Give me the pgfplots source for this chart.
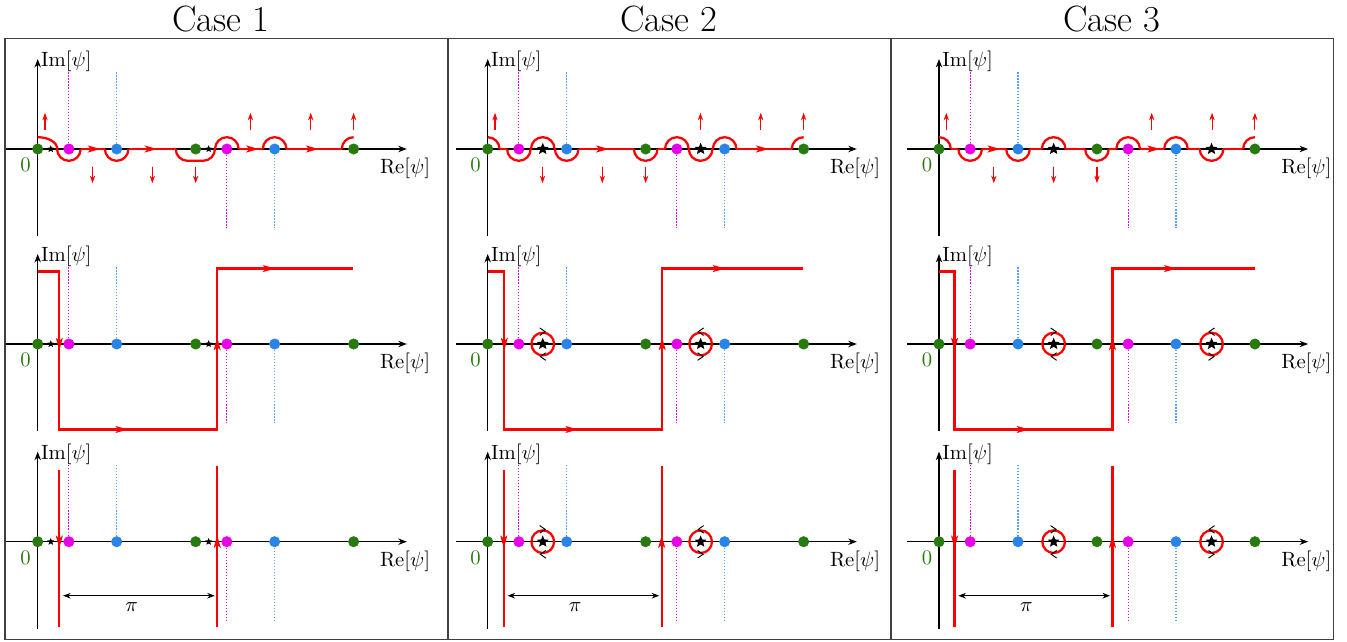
\documentclass[border=0pt]{standalone}
\usepackage{pgfplots}
\pgfplotsset{compat=1.18}
\usetikzlibrary{arrows.meta}

\definecolor{cgreen}{RGB}{40,122,14}
\definecolor{cmag}{RGB}{232,0,232}
\definecolor{cblue}{RGB}{42,132,232}
\definecolor{cdotblue}{RGB}{90,160,240}

\newlength{\rr}\setlength{\rr}{6.26pt}
\newlength{\ew}\setlength{\ew}{10.4pt}

\pgfdeclareplotmark{semiU}{\pgfpathmoveto{\pgfqpoint{-\rr}{0pt}}\pgfpatharc{180}{0}{\rr}\pgfusepathqstroke}
\pgfdeclareplotmark{semiD}{\pgfpathmoveto{\pgfqpoint{-\rr}{0pt}}\pgfpatharc{180}{360}{\rr}\pgfusepathqstroke}
\pgfdeclareplotmark{qstart}{\pgfpathmoveto{\pgfqpoint{0pt}{\rr}}\pgfpatharc{90}{0}{\rr}\pgfusepathqstroke}
\pgfdeclareplotmark{qstartE}{\pgfpathmoveto{\pgfqpoint{0pt}{\rr}}\pgfpatharc{90}{0}{\ew and \rr}\pgfusepathqstroke}
\pgfdeclareplotmark{qend}{\pgfpathmoveto{\pgfqpoint{-\rr}{0pt}}\pgfpatharc{180}{90}{\rr}\pgfusepathqstroke}
\pgfdeclareplotmark{flatD}{\pgfpathmoveto{\pgfqpoint{-\ew}{0pt}}\pgfpatharc{180}{270}{\rr}\pgfpathlineto{\pgfpoint{\ew-\rr}{-\rr}}\pgfpatharc{270}{360}{\rr}\pgfusepathqstroke}
\pgfdeclareplotmark{arr}{\pgfpathmoveto{\pgfqpoint{3.4pt}{0pt}}\pgfpathlineto{\pgfqpoint{-3.4pt}{1.9pt}}\pgfpathlineto{\pgfqpoint{-1.7pt}{0pt}}\pgfpathlineto{\pgfqpoint{-3.4pt}{-1.9pt}}\pgfpathclose\pgfusepathqfill}
\pgfdeclareplotmark{chev}{\pgfpathmoveto{\pgfqpoint{-1.6pt}{2pt}}\pgfpathlineto{\pgfqpoint{1.3pt}{0pt}}\pgfpathlineto{\pgfqpoint{-1.6pt}{-2pt}}\pgfusepathqstroke}
\pgfdeclareplotmark{fstar}{%
 \pgfpathmoveto{\pgfpointpolar{90}{\pgfplotmarksize}}%
 \pgfpathlineto{\pgfpointpolar{126}{0.45\pgfplotmarksize}}%
 \pgfpathlineto{\pgfpointpolar{162}{\pgfplotmarksize}}%
 \pgfpathlineto{\pgfpointpolar{198}{0.45\pgfplotmarksize}}%
 \pgfpathlineto{\pgfpointpolar{234}{\pgfplotmarksize}}%
 \pgfpathlineto{\pgfpointpolar{270}{0.45\pgfplotmarksize}}%
 \pgfpathlineto{\pgfpointpolar{306}{\pgfplotmarksize}}%
 \pgfpathlineto{\pgfpointpolar{342}{0.45\pgfplotmarksize}}%
 \pgfpathlineto{\pgfpointpolar{18}{\pgfplotmarksize}}%
 \pgfpathlineto{\pgfpointpolar{54}{0.45\pgfplotmarksize}}%
 \pgfpathclose\pgfusepathqfill}

\pgfplotsset{
 cell/.style={
  anchor=origin, x=26.65pt, y=26.65pt,
  xmin=-0.63, xmax=7.34, ymin=-1.73, ymax=1.79,
  axis lines=middle, ticks=none, clip=false,
  axis line style={line width=0.55pt, black},
  every inner x axis line/.append style={-{Stealth[length=4.5pt,width=3.4pt]}},
  every inner y axis line/.append style={-{Stealth[length=4.5pt,width=3.4pt]}},
 },
 rl/.style={red, line width=1.2pt},
 rm/.style={red, only marks, mark options={line width=1.2pt, solid}},
}

\newcommand{\lbl}{\fontsize{10.6pt}{12pt}\selectfont}
\newcommand{\cellbase}{%
 \addplot[cmag, densely dotted, line width=0.6pt] coordinates {(0.62,0)(0.62,1.54)};
 \addplot[cdotblue, densely dotted, line width=0.6pt] coordinates {(1.5708,0)(1.5708,1.54)};
 \addplot[cmag, densely dotted, line width=0.6pt] coordinates {(3.7616,0)(3.7616,-1.58)};
 \addplot[cdotblue, densely dotted, line width=0.6pt] coordinates {(4.7124,0)(4.7124,-1.58)};
 \node[anchor=base west,inner sep=0pt,font=\lbl] at (axis cs:0.06,1.64) {$\mathrm{Im}[\psi]$};
 \node[anchor=base west,inner sep=0pt,font=\lbl] at (axis cs:6.80,-0.49) {$\mathrm{Re}[\psi]$};
 \node[anchor=base,inner sep=0pt,text=cgreen,font=\lbl] at (axis cs:-0.24,-0.45) {$0$};
}
\newcommand{\cellpts}[3]{%
 \addplot[only marks, mark=*, mark size=2.7pt, cgreen] coordinates {(0,0)(3.1416,0)(6.2832,0)};
 \addplot[only marks, mark=*, mark size=2.7pt, cmag] coordinates {(0.62,0)(3.7616,0)};
 \addplot[only marks, mark=*, mark size=2.7pt, cblue] coordinates {(1.5708,0)(4.7124,0)};
 \addplot[only marks, mark=fstar, mark size=#3, black] coordinates {(#1,0)(#2,0)};
}
\newcommand{\uparr}[1]{\addplot[red, line width=0.55pt, -{Stealth[length=4pt,width=2.8pt]}] coordinates {(#1,0.38)(#1,0.72)};}
\newcommand{\dnarr}[1]{\addplot[red, line width=0.55pt, -{Stealth[length=4pt,width=2.8pt]}] coordinates {(#1,-0.35)(#1,-0.68)};}
\newcommand{\vertarrs}{\uparr{0.145}\uparr{4.23}\uparr{5.43}\uparr{6.2832}\dnarr{1.09}\dnarr{2.28}\dnarr{3.1416}}
\newcommand{\midrow}[2]{%
 \addplot[rl] coordinates {(0,1.44)(#1,1.44)(#1,-1.70)(#2,-1.70)(#2,1.50)(6.28,1.50)};
 \addplot[red, only marks, mark=arr, mark options={rotate=-90}] coordinates {(#1,0)};
 \addplot[red, only marks, mark=arr, mark options={rotate=90}] coordinates {(#2,0)};
 \addplot[red, only marks, mark=arr] coordinates {(1.67,-1.70)(4.6,1.50)};
}
\newcommand{\botrow}[3]{%
 \addplot[rl] coordinates {(#1,1.425)(#1,-1.70)};
 \addplot[rl] coordinates {(#2,1.505)(#2,-1.70)};
 \addplot[red, only marks, mark=arr, mark options={rotate=-90}] coordinates {(#1,0)};
 \addplot[red, only marks, mark=arr, mark options={rotate=90}] coordinates {(#2,0)};
 \addplot[black, line width=0.5pt, {Stealth[length=4pt,width=3pt]}-{Stealth[length=4pt,width=3pt]}, shorten <=2pt, shorten >=1.3pt] coordinates {(#1,-1.074)(#2,-1.074)};
 \node[anchor=base,inner sep=0pt,font=\lbl] at (axis cs:#3,-1.39) {$\pi$};
}
\newcommand{\circs}[2]{%
 \addplot[rm, mark=o, mark size=6pt] coordinates {(#1,0)(#2,0)};
 \addplot[black, only marks, mark=chev, mark options={line width=0.5pt}] coordinates {(#1,0.245)(#2,-0.25)};
 \addplot[black, only marks, mark=chev, mark options={rotate=180, line width=0.5pt}] coordinates {(#1,-0.25)(#2,0.245)};
}

\begin{document}
\begin{tikzpicture}
\begin{scope}[x=0.53pt,y=-0.53pt]
\path[use as bounding box] (0,0) rectangle (1347,641);
\draw[black!75, line width=0.8pt] (5,38.7) rectangle (448,639.3);
\draw[black!75, line width=0.8pt] (448,38.7) rectangle (891,639.3);
\draw[black!75, line width=0.8pt] (891,38.7) rectangle (1333.5,639.3);
\node[anchor=base, inner sep=0pt, font=\fontsize{19.4pt}{23pt}\selectfont] at (221,31.7) {Case 1};
\node[anchor=base, inner sep=0pt, font=\fontsize{19.4pt}{23pt}\selectfont] at (669,31.7) {Case 2};
\node[anchor=base, inner sep=0pt, font=\fontsize{19.4pt}{23pt}\selectfont] at (1112,31.7) {Case 3};
\end{scope}

% ================= Case 1 =================
\begin{axis}[cell, at={(37.7*0.53pt,-149*0.53pt)}]
\cellbase
\addplot[rl, unbounded coords=jump] coordinates {(0.855,0)(1.336,0)(nan,nan)(1.806,0)(2.745,0)(nan,nan)(3.997,0)(4.477,0)(nan,nan)(4.947,0)(6.048,0)};
\addplot[rm, mark=qstartE] coordinates {(0,0)};
\addplot[rm, mark=semiD] coordinates {(0.62,0)(1.5708,0)};
\addplot[rm, mark=flatD] coordinates {(3.135,0)};
\addplot[rm, mark=semiU] coordinates {(3.7616,0)(4.7124,0)};
\addplot[rm, mark=qend] coordinates {(6.2832,0)};
\addplot[red, only marks, mark=arr] coordinates {(1.12,0)(2.25,0)(4.27,0)(5.46,0)};
\vertarrs
\cellpts{0.26}{3.40}{2pt}
\end{axis}

\begin{axis}[cell, at={(37.7*0.53pt,-344*0.53pt)}]
\cellbase
\midrow{0.43}{3.57}
\cellpts{0.26}{3.40}{2pt}
\end{axis}

\begin{axis}[cell, at={(37.7*0.53pt,-541.7*0.53pt)}]
\cellbase
\botrow{0.43}{3.57}{1.87}
\cellpts{0.26}{3.40}{2pt}
\end{axis}

% ================= Case 2 =================
\begin{axis}[cell, at={(487.7*0.53pt,-149*0.53pt)}]
\cellbase
\addplot[rl, unbounded coords=jump] coordinates {(0.235,0)(0.385,0)(nan,nan)(1.806,0)(2.907,0)(nan,nan)(3.377,0)(3.527,0)(nan,nan)(4.947,0)(6.048,0)};
\addplot[rm, mark=qstart] coordinates {(0,0)};
\addplot[rm, mark=semiD] coordinates {(0.62,0)(1.5708,0)(3.1416,0)(4.235,0)};
\addplot[rm, mark=semiU] coordinates {(1.095,0)(3.7616,0)(4.7124,0)};
\addplot[rm, mark=qend] coordinates {(6.2832,0)};
\addplot[red, only marks, mark=arr] coordinates {(2.28,0)(5.46,0)};
\vertarrs
\cellpts{1.095}{4.235}{3.3pt}
\end{axis}

\begin{axis}[cell, at={(487.7*0.53pt,-344*0.53pt)}]
\cellbase
\midrow{0.33}{3.47}
\circs{1.095}{4.235}
\cellpts{1.095}{4.235}{3.3pt}
\end{axis}

\begin{axis}[cell, at={(487.7*0.53pt,-541.7*0.53pt)}]
\cellbase
\botrow{0.32}{3.46}{1.74}
\circs{1.095}{4.235}
\cellpts{1.095}{4.235}{3.3pt}
\end{axis}

% ================= Case 3 =================
\begin{axis}[cell, at={(939*0.53pt,-149*0.53pt)}]
\cellbase
\addplot[rl, unbounded coords=jump] coordinates {(0.235,0)(0.385,0)(nan,nan)(0.855,0)(1.336,0)(nan,nan)(1.806,0)(2.045,0)(nan,nan)(2.515,0)(2.907,0)(nan,nan)(3.377,0)(3.527,0)(nan,nan)(3.997,0)(4.477,0)(nan,nan)(4.947,0)(5.185,0)(nan,nan)(5.655,0)(6.048,0)};
\addplot[rm, mark=qstart] coordinates {(0,0)};
\addplot[rm, mark=semiD] coordinates {(0.62,0)(1.5708,0)(3.1416,0)(5.42,0)};
\addplot[rm, mark=semiU] coordinates {(2.28,0)(3.7616,0)(4.7124,0)};
\addplot[rm, mark=qend] coordinates {(6.2832,0)};
\addplot[red, only marks, mark=arr] coordinates {(1.09,0)(4.27,0)};
\vertarrs
\cellpts{2.28}{5.42}{3.3pt}
\end{axis}

\begin{axis}[cell, at={(939*0.53pt,-344*0.53pt)}]
\cellbase
\midrow{0.31}{3.45}
\circs{2.28}{5.42}
\cellpts{2.28}{5.42}{3.3pt}
\end{axis}

\begin{axis}[cell, at={(939*0.53pt,-541.7*0.53pt)}]
\cellbase
\botrow{0.31}{3.45}{1.74}
\circs{2.28}{5.42}
\cellpts{2.28}{5.42}{3.3pt}
\end{axis}
\end{tikzpicture}
\end{document}
